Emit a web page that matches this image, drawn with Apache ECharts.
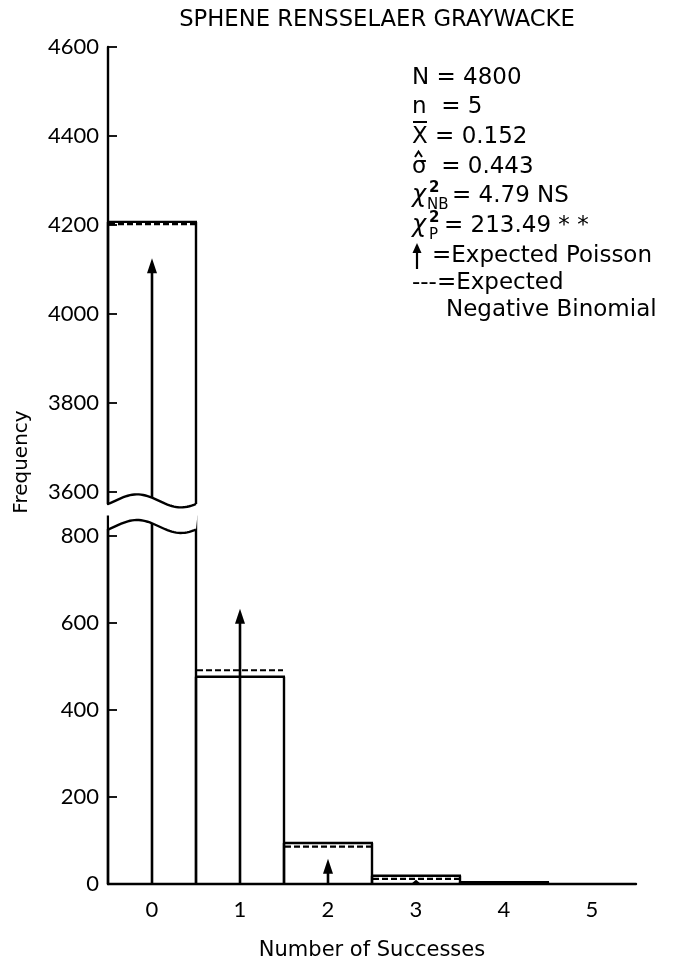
<!DOCTYPE html>
<html><head><meta charset="utf-8">
<script src="https://cdn.jsdelivr.net/npm/echarts@6/dist/echarts.min.js"></script>
<style>html,body{margin:0;padding:0;background:#fff}#c{width:675px;height:962px}</style>
</head><body><div id="c"></div>
<script>
// ---- data ----
const categories = [0, 1, 2, 3, 4, 5];
const observed = [4207, 476, 94, 19, 4, 0];
const expectedNB = [4202, 491, 86, 12, null, null];
const expectedPoisson = [4125, 632, 58, 10, null, null];
const upperTicks = [3600, 3800, 4000, 4200, 4400, 4600];
const lowerTicks = [0, 200, 400, 600, 800];
const xTicks = [0, 1, 2, 3, 4, 5];
const titleText = 'SPHENE RENSSELAER GRAYWACKE';
const xName = 'Number of Successes';
const yName = 'Frequency';

const upperMin = 3573, upperMax = 4600, lowerMin = 0, lowerMax = 814;
const FONT = '"DejaVu Sans"';
const NUMFONT = 'Lato';
const EXT = 14; // extension of lower lines into the break (px)
const LW = 2.4;

const chart = echarts.init(document.getElementById('c'));

function waveY(t) { return -6.5 * Math.sin(2 * Math.PI * (t - 0.08)); }

function barRender(gMin, gMax, lower) {
  return function (params, api) {
    const i = api.value(0), v = api.value(1);
    if (v == null || isNaN(v) || v <= gMin) return;
    const xl = api.coord([i - 0.5, gMin])[0], xr = api.coord([i + 0.5, gMin])[0];
    const yb = api.coord([i, gMin])[1];
    let yt = api.coord([i, Math.min(v, gMax)])[1];
    const over = v > gMax;
    if (over && lower) yt -= EXT;
    const st = { stroke: '#000', lineWidth: LW };
    const ch = [
      { type: 'line', shape: { x1: xl, y1: yb, x2: xl, y2: yt }, style: st },
      { type: 'line', shape: { x1: xr, y1: yb, x2: xr, y2: yt }, style: st }
    ];
    if (!over) ch.push({ type: 'line', shape: { x1: xl - 1, y1: yt, x2: xr + 1, y2: yt }, style: st });
    return { type: 'group', children: ch };
  };
}
function arrowRender(gMin, gMax, lower) {
  return function (params, api) {
    const i = api.value(0), v = api.value(1);
    if (v == null || isNaN(v) || v <= gMin) return;
    const x = api.coord([i, gMin])[0];
    const yb = api.coord([i, gMin])[1];
    let yt = api.coord([i, Math.min(v, gMax)])[1];
    const ch = [];
    if (v > gMax) {
      if (lower) yt -= EXT;
      ch.push({ type: 'line', shape: { x1: x, y1: yb, x2: x, y2: yt }, style: { stroke: '#000', lineWidth: 2.6 } });
    } else {
      const h = Math.min(15, yb - yt);
      ch.push({ type: 'line', shape: { x1: x, y1: yb, x2: x, y2: yt + h - 1 }, style: { stroke: '#000', lineWidth: 2.6 } });
      ch.push({ type: 'polygon', shape: { points: [[x, yt], [x - 5, yt + h], [x + 5, yt + h]] }, style: { fill: '#000' } });
    }
    return { type: 'group', children: ch };
  };
}
function dashRender(gMin, gMax) {
  return function (params, api) {
    const i = api.value(0), v = api.value(1);
    if (v == null || isNaN(v) || v < gMin || v > gMax) return;
    const xl = api.coord([i - 0.5, v])[0], xr = api.coord([i + 0.5, v])[0];
    const y = api.coord([i, v])[1];
    return { type: 'line', shape: { x1: xl + 1, y1: y, x2: xr - 1, y2: y },
      style: { stroke: '#000', lineWidth: 2.2, lineDash: [6, 3] } };
  };
}
function breakRender(gVal, lower) {
  return function (params, api) {
    const xl = api.coord([-0.5, gVal])[0], xr = api.coord([0.5, gVal])[0];
    const y0 = api.coord([0, gVal])[1];
    const pts = [];
    for (let k = 0; k <= 40; k++) {
      const t = k / 40;
      pts.push([xl + t * (xr - xl), y0 + waveY(t) - waveY(0)]);
    }
    const edge = lower ? y0 - EXT - 1 : y0 + 11;
    const fillPts = pts.concat([[xr + 1.5, edge], [xl + 1.2, edge]]);
    fillPts[0] = [xl + 1.2, fillPts[0][1]];
    return { type: 'group', children: [
      { type: 'polygon', shape: { points: fillPts }, style: { fill: '#fff' }, z2: 1 },
      { type: 'polyline', shape: { points: pts }, style: { stroke: '#000', lineWidth: LW, fill: null }, z2: 2 }
    ] };
  };
}

const pairs = arr => categories.map((c, i) => [c, arr[i]]);

const axisLabelBase = { color: '#000', fontFamily: NUMFONT, fontSize: 22, formatter: v => String(v) };

const option = {
  backgroundColor: '#fff',
  animation: false,
  title: { text: titleText, left: 372, top: 4, textAlign: 'center',
    textStyle: { fontFamily: FONT, fontSize: 22.7, fontWeight: 'normal', color: '#000' } },
  grid: [
    { left: 108, top: 47, width: 528, height: 457 },
    { left: 108, top: 529.6, width: 528, height: 358.4 }
  ],
  xAxis: [
    { type: 'value', gridIndex: 0, min: -0.5, max: 5.5, show: false },
    { type: 'value', gridIndex: 1, min: -0.5, max: 5.5,
      axisLine: { show: true, onZero: false, lineStyle: { color: '#000', width: LW } },
      axisTick: { show: false }, splitLine: { show: false },
      axisLabel: Object.assign({}, axisLabelBase, { customValues: xTicks, margin: 15 }),
      name: xName, nameLocation: 'middle', nameGap: 56,
      nameTextStyle: { fontFamily: FONT, fontSize: 21, color: '#000' } }
  ],
  yAxis: [
    { type: 'value', gridIndex: 0, min: upperMin, max: upperMax,
      axisLine: { show: true, onZero: false, lineStyle: { color: '#000', width: LW } },
      axisTick: { show: true, inside: true, length: 9, customValues: upperTicks, lineStyle: { color: '#000', width: 1.8 } },
      axisLabel: Object.assign({}, axisLabelBase, { customValues: upperTicks, margin: 9 }),
      splitLine: { show: false } },
    { type: 'value', gridIndex: 1, min: lowerMin, max: lowerMax,
      axisLine: { show: true, onZero: false, lineStyle: { color: '#000', width: LW } },
      axisTick: { show: true, inside: true, length: 9, customValues: lowerTicks, lineStyle: { color: '#000', width: 1.8 } },
      axisLabel: Object.assign({}, axisLabelBase, { customValues: lowerTicks, margin: 9 }),
      splitLine: { show: false } }
  ],
  series: [
    { type: 'custom', name: 'obsU', xAxisIndex: 0, yAxisIndex: 0, renderItem: barRender(upperMin, upperMax, false), data: pairs(observed), z: 2 },
    { type: 'custom', name: 'obsL', xAxisIndex: 1, yAxisIndex: 1, renderItem: barRender(lowerMin, lowerMax, true), data: pairs(observed), z: 2 },
    { type: 'custom', name: 'poiU', xAxisIndex: 0, yAxisIndex: 0, renderItem: arrowRender(upperMin, upperMax, false), data: pairs(expectedPoisson), z: 3 },
    { type: 'custom', name: 'poiL', xAxisIndex: 1, yAxisIndex: 1, renderItem: arrowRender(lowerMin, lowerMax, true), data: pairs(expectedPoisson), z: 3 },
    { type: 'custom', name: 'nbU', xAxisIndex: 0, yAxisIndex: 0, renderItem: dashRender(upperMin, upperMax), data: pairs(expectedNB), z: 3 },
    { type: 'custom', name: 'nbL', xAxisIndex: 1, yAxisIndex: 1, renderItem: dashRender(lowerMin, lowerMax), data: pairs(expectedNB), z: 3 },
    { type: 'custom', name: 'breakU', xAxisIndex: 0, yAxisIndex: 0, renderItem: breakRender(upperMin, false), data: [[0, upperMin]], z: 10 },
    { type: 'custom', name: 'breakL', xAxisIndex: 1, yAxisIndex: 1, renderItem: breakRender(lowerMax, true), data: [[0, lowerMax]], z: 10 }
  ],
  graphic: []
};

// annotation texts
const G = [];
const FS = 23;
function txt(t, x, y, size, extra) {
  G.push(Object.assign({ type: 'text', x: x, y: y, z: 20,
    style: Object.assign({ text: t, font: (size || FS) + 'px ' + FONT, fill: '#000', textAlign: 'left', textVerticalAlign: 'middle' }, extra || {}) }));
}
const sx = 412;
txt('N = 4800', sx, 78);
txt('n  = 5', sx, 107);
txt('X = 0.152', sx, 137);
G.push({ type: 'line', z: 20, shape: { x1: sx + 1, y1: 122, x2: sx + 15, y2: 122 }, style: { stroke: '#000', lineWidth: 2 } });
txt('σ  = 0.443', sx, 167);
G.push({ type: 'polyline', z: 20, shape: { points: [[sx + 3, 157], [sx + 6.5, 151.5], [sx + 10, 157]] }, style: { stroke: '#000', lineWidth: 2, fill: null } });
txt('χ', sx, 196, 24, { font: 'italic 24px ' + FONT });
txt('2', sx + 17, 188, 15, { font: 'bold 15px ' + FONT });
txt('NB', sx + 15, 205, 15);
txt('= 4.79 NS', sx + 40, 196);
txt('χ', sx, 226, 24, { font: 'italic 24px ' + FONT });
txt('2', sx + 17, 218, 15, { font: 'bold 15px ' + FONT });
txt('P', sx + 17, 235, 15);
txt('= 213.49 * *', sx + 32, 226);
G.push({ type: 'line', z: 20, shape: { x1: sx + 5, y1: 269, x2: sx + 5, y2: 250 }, style: { stroke: '#000', lineWidth: 2.2 } });
G.push({ type: 'polygon', z: 20, shape: { points: [[sx + 5, 243], [sx + 0.5, 253], [sx + 9.5, 253]] }, style: { fill: '#000' } });
txt('=Expected Poisson', sx + 20, 256);
txt('---=Expected', sx, 283);
txt('Negative Binomial', sx + 34, 310);
G.push({ type: 'text', x: 22, y: 462, rotation: Math.PI / 2, z: 20,
  style: { text: yName, font: '20px ' + FONT, fill: '#000', textAlign: 'center', textVerticalAlign: 'middle' } });
option.graphic = G;

chart.setOption(option);
</script>
</body></html>
